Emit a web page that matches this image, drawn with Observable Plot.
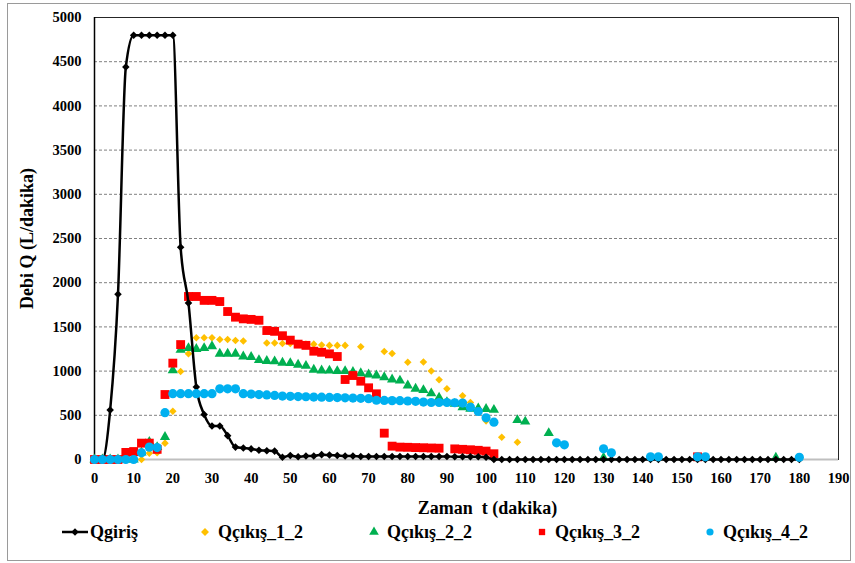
<!DOCTYPE html>
<html><head><meta charset="utf-8">
<script src="https://cdn.jsdelivr.net/npm/d3@7"></script>
<script src="https://cdn.jsdelivr.net/npm/@observablehq/plot@0.6"></script>
<style>
body{margin:0;background:#fff;}
#wrap{position:relative;width:855px;height:563px;overflow:hidden;font-family:"Liberation Serif","Times New Roman",serif;font-weight:bold;color:#000;}
#border{position:absolute;left:7px;top:3px;width:844px;height:558px;border:1px solid #9a9a9a;box-sizing:border-box;pointer-events:none;}
#chart{position:absolute;left:0;top:0;}
#legend{position:absolute;left:0;top:520px;width:855px;height:24px;font-size:18px;line-height:24px;}
.item{position:absolute;top:0;display:flex;align-items:center;height:24px;white-space:nowrap;}
.item svg{display:block;}
</style>
</head><body>
<div id="wrap"><div id="chart"></div><div id="legend"></div><div id="border"></div></div>
<script>
// ---- data (time in minutes, discharge in L/dakika) ----
const xTicks = [0,10,20,30,40,50,60,70,80,90,100,110,120,130,140,150,160,170,180,190];
const yTicks = [0,500,1000,1500,2000,2500,3000,3500,4000,4500,5000];
const seriesNames = ["Qgiriş","Qçıkış_1_2","Qçıkış_2_2","Qçıkış_3_2","Qçıkış_4_2"];

const qgirisT = [0,2,4,6,8,10,12,14,16,18,20,22,24,26,28,30,32,34,36,38,40,42,44,46,48,50,52,54,56,58,60,62,64,66,68,70,72,74,76,78,80,82,84,86,88,90,92,94,96,98,100,102,104,106,108,110,112,114,116,118,120,122,124,126,128,130,132,134,136,138,140,142,144,146,148,150,152,154,156,158,160,162,164,166,168,170,172,174,176,178,180];
const qgirisV = [0,0,560,1870,4440,4800,4800,4800,4800,4800,4800,2400,1770,820,510,380,380,270,140,130,120,105,100,95,25,45,30,40,40,55,50,45,40,40,35,35,35,35,35,35,35,35,35,35,35,35,30,30,30,30,25,0,0,0,0,0,0,0,0,0,0,0,0,0,0,0,0,0,0,0,0,0,0,0,0,0,0,0,0,0,0,0,0,0,0,0,0,0,0,0,0];

const q1T = [0,2,4,6,8,10,12,14,16,18,20,22,24,26,28,30,32,34,36,38,44,46,48,50,52,54,56,58,60,62,64,68,74,76,80,84,86,88,90,94,96,100,104,108];
const q1V = [0,0,0,0,0,0,0,72,76,185,546,995,1196,1377,1377,1377,1357,1357,1346,1340,1318,1318,1313,1313,1305,1305,1305,1295,1291,1291,1291,1275,1222,1200,1100,1104,1000,902,800,720,645,437,252,196];

const q2T = [0,2,4,6,8,10,12,14,16,18,20,22,24,26,28,30,32,34,36,38,40,42,44,46,48,50,52,54,56,58,60,62,64,66,68,70,72,74,76,78,80,82,84,86,88,90,92,94,96,98,100,102,108,110,116,130,174];
const q2V = [0,0,0,0,0,0,80,200,140,255,1010,1241,1260,1250,1260,1282,1196,1196,1196,1165,1160,1125,1115,1110,1095,1090,1072,1060,1015,1007,1005,1000,1000,990,976,962,950,931,905,893,837,800,785,748,700,650,630,590,575,578,572,562,445,428,298,20,20];

const q3T = [0,2,4,6,8,10,12,14,16,18,20,22,24,26,28,30,32,34,36,38,40,42,44,46,48,50,52,54,56,58,60,62,64,66,68,70,72,74,76,78,80,82,84,86,88,92,94,96,98,100,102,154];
const q3V = [0,0,0,0,80,90,185,185,115,735,1090,1300,1844,1844,1800,1800,1787,1674,1610,1591,1585,1575,1459,1450,1400,1350,1305,1291,1225,1213,1195,1165,905,950,886,811,743,298,151,140,138,135,133,130,128,120,115,110,104,95,65,30];

const q4T = [0,2,4,6,8,10,12,14,16,18,20,22,24,26,28,30,32,34,36,38,40,42,44,46,48,50,52,54,56,58,60,62,64,66,68,70,72,74,76,78,80,82,84,86,88,90,92,94,96,98,100,102,118,120,130,132,142,144,154,156,180];
const q4V = [0,0,0,0,0,0,76,140,135,530,745,745,745,745,745,745,800,800,800,745,740,735,730,725,718,715,712,710,706,705,702,700,698,695,692,688,670,668,666,665,662,658,650,645,645,645,642,638,592,543,472,422,189,166,121,76,30,30,30,30,25];

const colors = {q1:"#FFC000", q2:"#00B050", q3:"#FF0000", q4:"#00B0F0", q0:"#000000"};
const toRows = (T, V) => T.map((t, i) => ({t, v: V[i]}));
const d0 = toRows(qgirisT, qgirisV), d1 = toRows(q1T, q1V), d2 = toRows(q2T, q2V), d3s = toRows(q3T, q3V), d4 = toRows(q4T, q4V);

const chart = Plot.plot({
  width: 855, height: 520,
  marginLeft: 94, marginRight: 17, marginTop: 17, marginBottom: 61,
  style: {fontFamily: '"Liberation Serif","Times New Roman",serif', fontWeight: "bold", fontSize: "14.5px", color: "#000", background: "transparent", overflow: "visible"},
  x: {domain: [0, 190]},
  y: {domain: [0, 5000]},
  marks: [
    Plot.gridY(yTicks.slice(1), {stroke: "#808080", strokeOpacity: 1, strokeDasharray: "3,2"}),
    Plot.frame({stroke: "#262626"}),
    Plot.ruleX([0], {stroke: "#000", strokeWidth: 1.5}),
    Plot.ruleY([0], {stroke: "#bfbfbf", strokeWidth: 2}),
    Plot.axisX({ticks: xTicks, tickSize: 0, tickPadding: 13, tickFormat: d => String(d), label: "Zaman  t (dakika)", labelArrow: "none", labelAnchor: "center", labelOffset: 54}),
    Plot.axisY({ticks: yTicks, tickSize: 0, tickPadding: 13, tickFormat: d => String(d), label: "Debi Q (L/dakika)", labelArrow: "none", labelAnchor: "center", labelOffset: 74}),
    Plot.dot(d1, {x: "t", y: "v", symbol: d3.symbolDiamond2, r: 3.4, fill: colors.q1, stroke: "none"}),
    Plot.dot(d2, {x: "t", y: "v", symbol: d3.symbolTriangle, r: 3.8, fill: colors.q2, stroke: "none"}),
    Plot.dot(d3s, {x: "t", y: "v", symbol: d3.symbolSquare, r: 5.0, fill: colors.q3, stroke: "none"}),
    Plot.line(d0, {x: "t", y: "v", stroke: colors.q0, strokeWidth: 2.5, curve: "monotone-x"}),
    Plot.dot(d0, {x: "t", y: "v", symbol: d3.symbolDiamond2, r: 3.4, fill: colors.q0, stroke: "none"}),
    Plot.dot(d4, {x: "t", y: "v", symbol: "circle", r: 4.6, fill: colors.q4, stroke: "none"})
  ]
});
chart.querySelectorAll('[aria-label="x-axis label"] text, [aria-label="y-axis label"] text').forEach(t => {
  t.style.fontSize = "18px";
  t.textContent = t.textContent.replace(/[\u2190-\u2193]/g, "").trim();
});
chart.querySelectorAll('[aria-label="x-axis label"] text').forEach(t => { t.setAttribute("dx", "21"); });
document.getElementById("chart").appendChild(chart);

// ---- legend ----
const legendItems = [
  {name: seriesNames[0], color: colors.q0, symbol: d3.symbolDiamond2, line: true, left: 62},
  {name: seriesNames[1], color: colors.q1, symbol: d3.symbolDiamond2, left: 199},
  {name: seriesNames[2], color: colors.q2, symbol: d3.symbolTriangle, left: 368},
  {name: seriesNames[3], color: colors.q3, symbol: d3.symbolSquare, left: 536},
  {name: seriesNames[4], color: colors.q4, symbol: d3.symbolCircle, left: 704}
];
const legend = d3.select("#legend");
for (const it of legendItems) {
  const item = legend.append("div").attr("class", "item").style("left", it.left + "px");
  const w = it.line ? 26 : 12;
  const svg = item.append("svg").attr("width", w).attr("height", 12).style("margin-right", it.line ? "2px" : "7px");
  if (it.line) svg.append("line").attr("x1", 0).attr("x2", w).attr("y1", 6).attr("y2", 6).attr("stroke", it.color).attr("stroke-width", 2.5);
  svg.append("path").attr("transform", `translate(${w/2},6)`).attr("d", d3.symbol(it.symbol, it.line ? 36 : 40)()).attr("fill", it.color);
  item.append("span").text(it.name);
}
</script>
</body></html>
